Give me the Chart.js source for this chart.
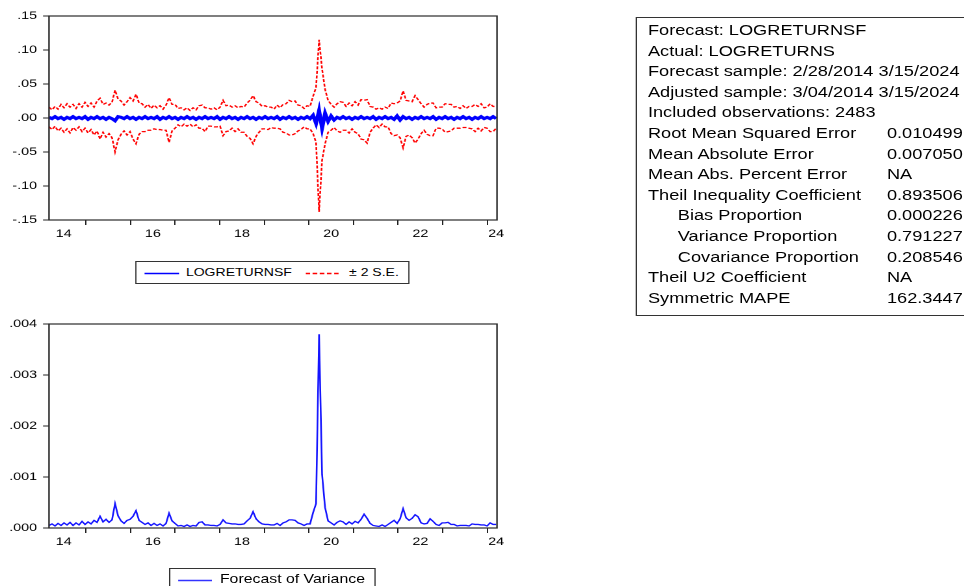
<!DOCTYPE html>
<html><head><meta charset="utf-8">
<script src="https://cdn.jsdelivr.net/npm/chart.js@4.4.1/dist/chart.umd.min.js"></script>
<style>
html,body{margin:0;padding:0;background:#fff;overflow:hidden;width:964px;height:586px;}
#page{position:absolute;left:0;top:0;width:741.5px;height:586px;transform:scaleX(1.3);transform-origin:0 0;font-family:'Liberation Sans',Arial,sans-serif;color:#000;}
.wrap{position:absolute;}
#topWrap{left:0;top:0;width:400px;height:250px;}
#botWrap{left:0;top:300px;width:400px;height:255px;}
.legend{position:absolute;border:1px solid #333;background:#fff;box-sizing:border-box;}
.legend .lt{position:absolute;top:0;white-space:nowrap;}
.legend svg{position:absolute;}
#stats{position:absolute;left:489.2px;top:17px;width:320px;height:299px;border:1px solid #333;box-sizing:border-box;padding:2px 0 0 8.2px;font-size:14px;line-height:20.6px;white-space:nowrap;}
#stats .row{position:relative;height:20.6px;}
#stats .ind{padding-left:23px;}
#stats .val{position:absolute;left:183.9px;top:0;}
</style>
</head><body>
<div id="page">
  <div class="wrap" id="topWrap"><canvas id="topChart"></canvas></div>
  <div class="legend" id="topLegend" style="left:103.8px;top:261px;width:211.6px;height:23px;"></div>
  <div class="wrap" id="botWrap"><canvas id="botChart"></canvas></div>
  <div class="legend" id="botLegend" style="left:130px;top:568px;width:159.2px;height:24px;"></div>
  <div id="stats"></div>
</div>
<script>
// ---------- data (one value per ~3 px of the plot) ----------
const sampleStart = 2014.17;   // 3/04/2014
const sampleEnd   = 2024.20;   // 3/15/2024

const logReturnsF = [
 0.001,-0.001,0.002,-0.001,0.001,-0.002,0.001,-0.001,0.002,-0.001,
 0.001,-0.001,0.002,-0.002,0.001,-0.001,0.002,-0.001,0.001,-0.002,
 0.001,-0.001,-0.004,0.002,
 0.001,-0.001,0.002,-0.001,0.001,-0.002,0.001,-0.001,0.002,-0.001,
 0.001,-0.001,0.002,-0.002,0.001,-0.001,0.002,-0.001,0.001,-0.002,
 0.001,-0.001,0.002,-0.001,0.001,-0.002,0.001,-0.001,0.002,-0.001,
 0.001,-0.001,0.002,-0.002,0.001,-0.001,0.002,-0.001,0.001,-0.002,
 0.001,-0.001,0.002,-0.001,0.001,-0.002,0.001,-0.001,0.002,-0.001,
 0.001,-0.001,0.002,-0.002,0.001,-0.001,0.002,-0.001,0.001,-0.002,
 0.001,-0.001,0.002,-0.001,
 0.004,-0.008,0.011,-0.015,0.007,-0.005,0.003,-0.003,
 0.001,-0.001,0.002,-0.001,0.001,-0.002,0.001,-0.001,0.002,-0.001,
 0.001,-0.001,0.002,-0.002,0.001,-0.001,0.002,-0.001,0.001,-0.002,
 0.003,-0.003,0.002,-0.001,0.001,-0.002,0.001,-0.001,0.002,-0.001,
 0.001,-0.001,0.002,-0.002,0.001,-0.001,0.002,-0.001,0.001,-0.002,
 0.001,-0.001,0.002,-0.001,0.001,-0.002,0.001,-0.001,0.002,-0.001,
 0.001,-0.001,0.002,-0.001
];

const seUpper = [
 0.016,0.012,0.017,0.013,0.020,0.015,0.021,0.016,0.020,0.014,
 0.021,0.016,0.023,0.017,0.022,0.016,0.025,0.029,0.020,0.022,
 0.019,0.023,0.041,0.028,0.025,0.019,0.024,0.030,0.025,0.035,
 0.022,0.021,0.016,0.020,0.014,0.019,0.015,0.018,0.013,0.019,
 0.030,0.020,0.020,0.014,0.015,0.012,0.015,0.011,0.015,0.012,
 0.018,0.019,0.015,0.015,0.013,0.015,0.012,0.016,0.026,0.018,
 0.019,0.016,0.018,0.015,0.017,0.016,0.022,0.026,0.033,0.024,
 0.022,0.017,0.018,0.016,0.016,0.013,0.019,0.015,0.020,0.021,
 0.026,0.024,0.025,0.019,0.018,0.014,0.018,0.017,0.032,0.045,
 0.115,0.072,0.042,0.026,0.020,0.016,0.021,0.024,0.023,0.017,
 0.022,0.018,0.024,0.019,0.027,0.026,0.027,0.017,0.016,0.013,
 0.015,0.013,0.016,0.014,0.022,0.021,0.022,0.025,0.040,0.026,
 0.025,0.024,0.033,0.027,0.021,0.016,0.020,0.022,0.022,0.015,
 0.016,0.016,0.021,0.020,0.020,0.016,0.017,0.014,0.018,0.014,
 0.017,0.017,0.020,0.017,0.021,0.015,0.016,0.021,0.017,0.017
];

const seLower = [
 -0.013,-0.017,-0.012,-0.019,-0.015,-0.021,-0.016,-0.022,-0.014,-0.018,
 -0.013,-0.020,-0.015,-0.022,-0.017,-0.025,-0.019,-0.031,-0.021,-0.028,
 -0.023,-0.029,-0.050,-0.032,-0.024,-0.019,-0.025,-0.020,-0.031,-0.038,
 -0.024,-0.020,-0.020,-0.018,-0.018,-0.016,-0.017,-0.017,-0.018,-0.018,
 -0.036,-0.019,-0.015,-0.010,-0.013,-0.009,-0.012,-0.009,-0.013,-0.010,
 -0.015,-0.015,-0.020,-0.012,-0.012,-0.013,-0.013,-0.012,-0.026,-0.020,
 -0.019,-0.015,-0.020,-0.016,-0.021,-0.021,-0.027,-0.030,-0.038,-0.027,
 -0.021,-0.016,-0.016,-0.017,-0.014,-0.015,-0.015,-0.016,-0.021,-0.022,
 -0.025,-0.025,-0.023,-0.019,-0.017,-0.013,-0.016,-0.016,-0.023,-0.036,
 -0.138,-0.062,-0.038,-0.021,-0.018,-0.014,-0.019,-0.021,-0.018,-0.018,
 -0.022,-0.016,-0.021,-0.023,-0.031,-0.032,-0.037,-0.021,-0.015,-0.010,
 -0.014,-0.009,-0.013,-0.013,-0.023,-0.026,-0.025,-0.029,-0.044,-0.027,
 -0.025,-0.029,-0.037,-0.031,-0.023,-0.018,-0.024,-0.026,-0.026,-0.015,
 -0.015,-0.016,-0.021,-0.020,-0.019,-0.015,-0.015,-0.015,-0.014,-0.014,
 -0.015,-0.016,-0.020,-0.015,-0.019,-0.014,-0.015,-0.020,-0.020,-0.015
];

const forecastVariance = [
 5e-5,8e-5,4e-5,9e-5,5e-5,10e-5,6e-5,11e-5,5e-5,10e-5,
 6e-5,13e-5,7e-5,12e-5,8e-5,15e-5,11e-5,23e-5,12e-5,17e-5,
 11e-5,16e-5,48e-5,24e-5,14e-5,9e-5,15e-5,17e-5,23e-5,34e-5,
 15e-5,11e-5,7e-5,10e-5,5e-5,9e-5,5e-5,8e-5,4e-5,9e-5,
 29e-5,14e-5,9e-5,4e-5,5e-5,3e-5,6e-5,3e-5,5e-5,4e-5,
 11e-5,12e-5,6e-5,6e-5,5e-5,5e-5,4e-5,7e-5,16e-5,10e-5,
 9e-5,8e-5,8e-5,7e-5,7e-5,8e-5,14e-5,19e-5,32e-5,18e-5,
 12e-5,8e-5,7e-5,7e-5,6e-5,6e-5,9e-5,5e-5,10e-5,12e-5,
 16e-5,16e-5,15e-5,10e-5,8e-5,5e-5,8e-5,8e-5,30e-5,48e-5,
 380e-5,105e-5,40e-5,14e-5,10e-5,6e-5,11e-5,14e-5,12e-5,7e-5,
 12e-5,8e-5,13e-5,10e-5,17e-5,27e-5,19e-5,9e-5,5e-5,4e-5,
 3e-5,6e-5,3e-5,7e-5,11e-5,15e-5,9e-5,18e-5,38e-5,20e-5,
 15e-5,19e-5,26e-5,22e-5,10e-5,8e-5,9e-5,18e-5,13e-5,7e-5,
 5e-5,10e-5,10e-5,11e-5,7e-5,7e-5,4e-5,5e-5,5e-5,5e-5,
 4e-5,8e-5,7e-5,7e-5,6e-5,6e-5,4e-5,10e-5,7e-5,7e-5
];

// axis ticks
const yearTicks   = [2015,2016,2017,2018,2019,2020,2021,2022,2023,2024];
const xTickLabels = ['14','16','18','20','22','24'];
const xLabelPos   = [2014.5,2016.5,2018.5,2020.5,2022.5,2024.2];
const topYTicks = {min:-0.15, max:0.15, step:0.05};
const botYTicks = {min:0, max:0.004, step:0.001};

// legend / table text
const topSeriesNames = ['LOGRETURNSF','\u00B1 2 S.E.'];
const botSeriesNames = ['Forecast of Variance'];
const headerLines = ['Forecast: LOGRETURNSF','Actual: LOGRETURNS','Forecast sample: 2/28/2014 3/15/2024','Adjusted sample: 3/04/2014 3/15/2024','Included observations: 2483'];
const statLabels = ['Root Mean Squared Error','Mean Absolute Error','Mean Abs. Percent Error','Theil Inequality Coefficient','Bias Proportion','Variance Proportion','Covariance Proportion','Theil U2 Coefficient','Symmetric MAPE'];
const statIndent = [0,0,0,0,1,1,1,0,0];
const statValues = ['0.010499','0.007050','NA','0.893506','0.000226','0.791227','0.208546','NA','162.3447'];

// ---------- build ----------
const FONT = "'Liberation Sans', Arial, sans-serif";
const N = logReturnsF.length;
const sampleDates = Array.from({length:N}, (_, i) => sampleStart + i * (sampleEnd - sampleStart) / (N - 1));
const toXY = arr => arr.map((v, i) => ({x: sampleDates[i], y: v}));

function fmt(v, d){
  const s = Math.abs(v).toFixed(d).replace(/^0/, '');
  return (v < -1e-12 ? '-' : '') + s;
}

function xScale(){
  return {
    type:'linear', min:2014.17, max:2024.22,
    afterBuildTicks: s => {
      s.ticks = yearTicks.map(v => ({value:v})).concat(xLabelPos.map(v => ({value:v})))
        .sort((a, b) => a.value - b.value);
    },
    afterFit: s => { s.height = 25; },
    grid:{display:true, drawOnChartArea:false, drawTicks:true, tickLength:5, tickWidth:1,
      tickColor: c => (c.tick && Number.isInteger(c.tick.value)) ? '#222' : 'rgba(0,0,0,0)'},
    border:{display:false},
    ticks:{autoSkip:false, maxRotation:0, minRotation:0, padding:2.4, color:'#000',
      font:{family:FONT, size:11},
      callback: v => { const k = xLabelPos.findIndex(p => Math.abs(p - v) < 1e-6); return k >= 0 ? xTickLabels[k] : ''; }}
  };
}
function yScale(t, dec){
  return {
    type:'linear', min:t.min, max:t.max,
    afterFit: s => { s.width = 37.7; },
    grid:{display:true, drawOnChartArea:false, drawTicks:true, tickLength:4.6, tickWidth:1, tickColor:'#222'},
    border:{display:false},
    ticks:{stepSize:t.step, padding:4.6, color:'#000', font:{family:FONT, size:11}, callback: v => fmt(v, dec)}
  };
}
const framePlugin = {
  id:'frame',
  afterDraw(chart){
    const {ctx, chartArea:a} = chart;
    ctx.save(); ctx.strokeStyle = '#2a2a2a'; ctx.lineWidth = 1.2;
    ctx.strokeRect(a.left, a.top, a.right - a.left, a.bottom - a.top);
    ctx.restore();
  }
};
const common = {
  responsive:true, maintainAspectRatio:false, animation:false, devicePixelRatio:2,
  plugins:{legend:{display:false}, tooltip:{enabled:false}},
  elements:{point:{radius:0}, line:{tension:0}}
};

new Chart(document.getElementById('topChart'), {
  type:'line',
  data:{datasets:[
    {label:topSeriesNames[0], data:toXY(logReturnsF), borderColor:'#0000ff', borderWidth:3, pointRadius:0},
    {label:topSeriesNames[1], data:toXY(seUpper), borderColor:'#ff0000', borderWidth:1.3, borderDash:[3,1.6], pointRadius:0},
    {label:topSeriesNames[1], data:toXY(seLower), borderColor:'#ff0000', borderWidth:1.3, borderDash:[3,1.6], pointRadius:0}
  ]},
  options:Object.assign({}, common, {
    layout:{padding:{left:0, right:17.7, top:16, bottom:5}},
    scales:{x:xScale(), y:yScale(topYTicks, 2)}
  }),
  plugins:[framePlugin]
});

new Chart(document.getElementById('botChart'), {
  type:'line',
  data:{datasets:[
    {label:botSeriesNames[0], data:toXY(forecastVariance), borderColor:'#1414ff', borderWidth:1.3, pointRadius:0}
  ]},
  options:Object.assign({}, common, {
    layout:{padding:{left:0, right:17.7, top:24, bottom:2}},
    scales:{x:xScale(), y:yScale(botYTicks, 3)}
  }),
  plugins:[framePlugin]
});

// ---------- legends ----------
function sample(left, top, w, color, dash){
  return '<svg style="left:' + left + 'px;top:' + top + 'px" width="' + w + '" height="3"><line x1="0" y1="1.5" x2="' + w +
    '" y2="1.5" stroke="' + color + '" stroke-width="1.4"' + (dash ? ' stroke-dasharray="' + dash + '"' : '') + '/></svg>';
}
document.getElementById('topLegend').innerHTML =
  sample(6, 9.5, 27, '#0000ff') +
  '<span class="lt" style="left:38.2px;font-size:10.8px;line-height:21px">' + topSeriesNames[0] + '</span>' +
  sample(130.6, 9.5, 26, '#ff0000', '3.5 2') +
  '<span class="lt" style="left:163.7px;font-size:10.8px;line-height:21px">' + topSeriesNames[1] + '</span>';
document.getElementById('botLegend').innerHTML =
  sample(5.9, 9.5, 26.2, '#3333ff') +
  '<span class="lt" style="left:38.2px;font-size:12.2px;line-height:20px">' + botSeriesNames[0] + '</span>';

// ---------- statistics table ----------
let html = headerLines.map(t => '<div class="row">' + t + '</div>').join('');
html += statLabels.map((t, i) => '<div class="row"><span class="' + (statIndent[i] ? 'ind' : '') + '">' + t +
  '</span><span class="val">' + statValues[i] + '</span></div>').join('');
document.getElementById('stats').innerHTML = html;
</script>
</body></html>
